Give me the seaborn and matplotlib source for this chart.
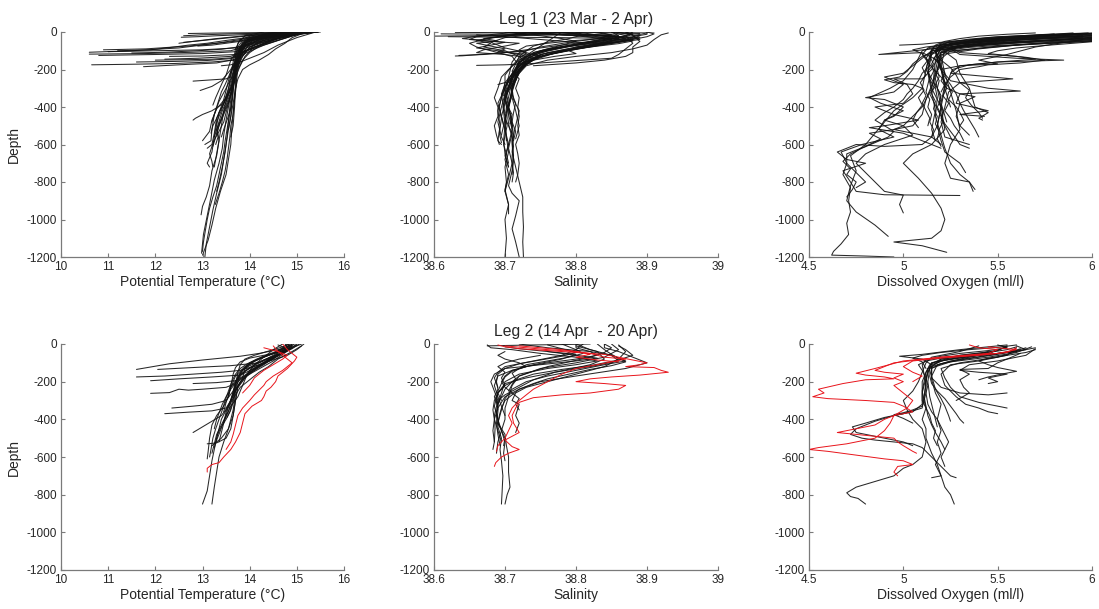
import matplotlib
matplotlib.use("Agg")
import matplotlib.pyplot as plt
import pandas as pd
import seaborn as sns

# ---------------- data: profiles as (value, depth) pairs ----------------
leg1_temp = [
    [(15.45,0),(15.0,-8),(14.6,-20),(14.2,-40),(13.9,-70),(13.8,-110),(13.75,-160),(13.7,-220),(13.65,-300),(13.62,-380),(13.6,-450),(13.55,-520),(13.5,-600),(13.45,-680),(13.4,-760),(13.3,-860),(13.22,-950),(13.15,-1040),(13.08,-1130),(13.05,-1200)],
    [(15.3,0),(14.8,-10),(14.4,-25),(14.0,-50),(13.85,-90),(13.7,-150),(13.68,-250),(13.6,-330),(13.55,-400),(13.5,-470),(13.45,-550),(13.42,-620),(13.35,-700),(13.25,-790),(13.18,-880),(13.1,-980),(13.02,-1080),(12.98,-1180)],
    [(15.5,0),(15.1,-5),(14.5,-15),(14.1,-35),(13.9,-80),(13.75,-130),(13.7,-200),(13.72,-280),(13.68,-360),(13.65,-430),(13.62,-520),(13.6,-600),(13.55,-680),(13.5,-760),(13.38,-850),(13.28,-940),(13.2,-1030),(13.12,-1110),(13.0,-1190)],
    [(15.2,0),(14.6,-12),(14.2,-30),(13.9,-60),(13.8,-120),(13.7,-200),(13.65,-280),(13.5,-360),(13.35,-430),(13.3,-500),(13.35,-580),(13.3,-660),(13.2,-740),(13.15,-820),(13.08,-880),(13.0,-930),(12.97,-975)],
    [(15.3,0),(14.9,-8),(14.3,-22),(13.95,-45),(13.8,-100),(13.72,-170),(13.6,-260),(13.5,-340),(13.4,-420),(13.3,-480),(13.25,-560),(13.2,-640),(13.1,-700),(13.15,-720)],
    [(15.4,0),(14.7,-15),(14.0,-40),(13.8,-90),(13.7,-160),(13.62,-240),(13.5,-300),(13.35,-370),(13.25,-440),(13.2,-520),(13.18,-580),(13.05,-600)],
    [(15.1,0),(14.5,-10),(14.0,-30),(13.85,-70),(13.75,-140),(13.6,-220),(13.55,-310),(13.45,-380),(13.3,-460),(13.25,-540),(13.2,-600),(13.1,-620)],
    [(15.3,0),(14.4,-20),(13.95,-50),(13.8,-110),(13.7,-190),(13.65,-270),(13.5,-350),(13.3,-410),(13.2,-470),(13.15,-530),(13.0,-580)],
    [(15.0,0),(14.3,-15),(13.9,-45),(13.75,-110),(13.7,-200),(13.6,-300),(13.45,-380),(13.2,-420),(13.0,-440),(12.85,-460),(12.8,-470)],
    [(15.2,0),(14.5,-18),(14.0,-45),(13.8,-100),(13.6,-200),(13.4,-260),(13.2,-290),(12.95,-312)],
    [(14.9,0),(14.2,-20),(13.85,-60),(13.7,-130),(13.65,-220),(13.62,-320),(13.58,-400),(13.55,-480),(13.52,-560),(13.48,-640),(13.42,-720),(13.35,-800),(13.3,-850)],
    [(15.4,0),(15.1,-10),(14.9,-30),(14.75,-60),(14.55,-90),(14.4,-120),(14.2,-150),(14.0,-175),(13.85,-200),(13.75,-250),(13.7,-300),(13.68,-400),(13.65,-500),(13.6,-560)],
    [(15.2,0),(14.8,-20),(14.5,-45),(14.2,-75),(14.0,-110),(13.85,-150),(13.75,-200),(13.7,-300),(13.65,-380),(13.6,-450),(13.55,-520)],
    [(15.35,0),(14.95,-15),(14.6,-35),(14.3,-60),(14.05,-90),(13.9,-130),(13.8,-180),(13.7,-240),(13.6,-320),(13.5,-390),(13.4,-460),(13.3,-520),(13.25,-560)],
    [(14.6,0),(14.1,-15),(13.8,-40),(13.7,-90),(13.65,-160),(13.6,-240),(13.5,-250),(12.8,-262)],
    [(14.3,0),(13.9,-20),(13.75,-60),(13.7,-120),(13.68,-200),(13.6,-280),(13.52,-350),(13.45,-420),(13.4,-500),(13.35,-580),(13.3,-650),(13.25,-720)],
    [(10.6,-108),(11.5,-100),(12.5,-85),(13.3,-60),(13.8,-40),(14.3,-20),(15.0,0)],
    [(10.6,-118),(11.8,-115),(12.8,-108),(13.6,-100),(14.0,-70),(14.8,-20),(15.3,0)],
    [(10.65,-175),(11.5,-172),(12.4,-168),(13.2,-160),(13.7,-150),(13.9,-100),(14.5,-40),(15.2,0)],
    [(15.4,0),(14.6,-30),(14.0,-80),(13.8,-140),(13.3,-165),(12.5,-175),(11.75,-185)],
    [(10.8,-125),(12.0,-120),(13.0,-115),(13.7,-105),(14.2,-60),(15.1,0)],
    [(10.9,-95),(11.8,-90),(12.7,-75),(13.5,-55),(14.5,-25),(15.3,0)],
    [(12.2,-145),(12.9,-140),(13.6,-130),(14.1,-80),(15.2,0)],
    [(12.5,-60),(12.8,-50),(13.3,-35),(13.9,-20),(14.6,-8),(15.4,0)],
    [(12.6,-20),(13.0,-15),(13.6,-10),(14.5,-5),(15.3,0)],
    [(11.0,-105),(12.0,-100),(13.0,-95),(13.7,-85),(14.4,-40),(15.0,0)],
    [(12.7,-8),(13.2,-6),(13.9,-4),(14.8,-2),(15.45,0)],
    [(12.3,-130),(13.0,-128),(13.7,-120),(14.3,-70),(15.1,-5)],
    [(15.45,0),(15.2,-5),(14.9,-12),(14.6,-22),(14.35,-35),(14.1,-55),(13.95,-80),(13.85,-110),(13.78,-140),(13.72,-180),(13.7,-230),(13.66,-290),(13.64,-350),(13.6,-410),(13.52,-470),(13.45,-520),(13.4,-560)],
    [(15.4,0),(15.0,-6),(14.7,-14),(14.4,-28),(14.15,-48),(13.98,-70),(13.88,-100),(13.8,-135),(13.76,-175),(13.7,-215),(13.68,-260),(13.62,-320),(13.55,-380),(13.45,-440),(13.35,-500),(13.28,-560),(13.22,-610)],
    [(15.3,0),(14.95,-10),(14.55,-20),(14.25,-32),(14.05,-50),(13.9,-75),(13.82,-105),(13.78,-145),(13.72,-190),(13.66,-240),(13.6,-300),(13.52,-360),(13.42,-420),(13.36,-470),(13.3,-520),(13.33,-560),(13.28,-600)],
    [(15.2,0),(14.85,-8),(14.5,-18),(14.15,-30),(13.95,-45),(13.85,-65),(13.8,-95),(13.76,-130),(13.68,-170),(13.6,-210),(13.55,-260),(13.5,-310),(13.45,-360),(13.38,-410),(13.3,-460),(13.22,-500),(13.18,-540)],
    [(15.1,0),(14.7,-10),(14.3,-20),(14.0,-35),(13.85,-55),(13.78,-85),(13.75,-125),(13.7,-160),(13.62,-200),(13.55,-240),(13.48,-280),(13.4,-320),(13.35,-360),(13.3,-400),(13.25,-440),(13.2,-480)],
    [(15.45,0),(15.1,-8),(14.8,-18),(14.5,-30),(14.3,-45),(14.1,-70),(13.95,-100),(13.85,-130),(13.78,-170),(13.73,-210),(13.7,-260),(13.69,-320),(13.67,-380),(13.65,-440),(13.6,-500),(13.58,-560),(13.55,-620),(13.52,-680),(13.48,-740),(13.42,-800),(13.35,-860),(13.27,-920)],
    [(14.8,0),(14.4,-10),(14.05,-25),(13.85,-45),(13.75,-80),(13.72,-120),(13.7,-170),(13.68,-230),(13.64,-290),(13.58,-350),(13.5,-400),(13.42,-450),(13.35,-500),(13.3,-545)],
    [(15.35,0),(15.05,-6),(14.75,-16),(14.45,-28),(14.2,-42),(14.0,-60),(13.88,-85),(13.82,-115),(13.8,-150),(13.74,-190),(13.68,-230),(13.65,-280),(13.63,-340),(13.6,-400),(13.56,-460),(13.52,-520),(13.48,-580),(13.45,-640),(13.4,-700),(13.35,-760),(13.3,-820),(13.22,-880),(13.15,-940),(13.1,-1000),(13.06,-1060),(13.02,-1120),(13.0,-1170)],
    [(15.0,0),(14.6,-15),(14.2,-30),(13.95,-50),(13.8,-80),(13.7,-115),(13.6,-150),(13.55,-190),(13.5,-230),(13.42,-270),(13.35,-310),(13.28,-350),(13.22,-390)],
    [(15.25,0),(14.9,-10),(14.6,-22),(14.35,-38),(14.15,-58),(14.0,-82),(13.9,-110),(13.82,-140),(13.75,-180),(13.7,-225),(13.66,-275),(13.6,-330),(13.55,-380),(13.5,-430),(13.45,-480),(13.35,-530),(13.25,-575),(13.2,-610),(13.15,-650),(13.2,-690),(13.22,-720)],
    [(11.2,-100),(11.9,-95),(12.4,-80),(12.7,-70),(13.1,-60),(13.5,-45),(14.0,-28),(14.7,-10),(15.2,0)],
    [(11.5,-112),(12.2,-108),(12.9,-100),(13.4,-92),(13.75,-80),(14.2,-50),(14.9,-15),(15.35,0)],
    [(12.0,-150),(12.6,-148),(13.2,-145),(13.6,-138),(13.8,-120),(14.1,-80),(14.6,-35),(15.1,-5)],
    [(12.6,-55),(12.9,-48),(13.2,-40),(13.6,-30),(14.0,-20),(14.6,-10),(15.0,-3)],
    [(12.55,-28),(12.9,-25),(13.3,-20),(13.8,-15),(14.4,-8),(15.1,0)],
    [(12.9,-75),(13.2,-70),(13.5,-60),(13.8,-50),(14.2,-35),(14.8,-15),(15.3,-2)],
    [(11.6,-160),(12.4,-157),(13.1,-152),(13.6,-142),(13.85,-120),(14.3,-70),(15.0,-10)],
    [(13.4,-180),(13.6,-175),(13.8,-160),(14.0,-140),(14.3,-110),(14.6,-70),(15.0,-30),(15.4,0)],
]

leg1_sal = [
    [(38.75,0),(38.8,-10),(38.86,-25),(38.88,-40),(38.85,-60),(38.8,-90),(38.76,-120),(38.73,-160),(38.72,-200),(38.715,-260),(38.71,-320),(38.705,-400),(38.71,-480),(38.712,-560),(38.71,-640),(38.715,-720),(38.72,-800),(38.725,-880),(38.725,-960),(38.726,-1040),(38.725,-1120),(38.726,-1200)],
    [(38.73,0),(38.78,-15),(38.84,-30),(38.87,-45),(38.82,-75),(38.77,-110),(38.74,-140),(38.72,-180),(38.71,-240),(38.705,-300),(38.7,-380),(38.695,-450),(38.7,-520),(38.705,-600),(38.7,-680),(38.705,-760),(38.7,-840),(38.705,-920),(38.7,-1000),(38.702,-1100),(38.7,-1200)],
    [(38.7,0),(38.76,-10),(38.82,-20),(38.89,-30),(38.86,-50),(38.8,-80),(38.75,-120),(38.73,-170),(38.715,-230),(38.71,-300),(38.712,-360),(38.72,-420),(38.715,-500),(38.71,-580),(38.712,-660),(38.71,-740),(38.705,-820),(38.71,-860),(38.72,-900),(38.715,-980),(38.71,-1050),(38.715,-1120),(38.72,-1200)],
    [(38.72,0),(38.8,-20),(38.85,-40),(38.8,-70),(38.75,-110),(38.72,-160),(38.71,-220),(38.7,-300),(38.705,-380),(38.7,-460),(38.71,-540),(38.705,-620),(38.71,-700),(38.705,-780),(38.7,-850),(38.705,-920),(38.705,-970)],
    [(38.93,-5),(38.92,-15),(38.91,-40),(38.9,-70),(38.88,-90),(38.85,-110),(38.8,-130),(38.76,-150),(38.73,-180),(38.72,-220),(38.71,-280),(38.71,-350),(38.715,-420),(38.72,-500),(38.715,-570)],
    [(38.9,-5),(38.88,-20),(38.89,-40),(38.85,-60),(38.78,-100),(38.74,-150),(38.72,-200),(38.705,-260),(38.7,-330),(38.695,-400),(38.69,-480),(38.695,-560),(38.7,-600)],
    [(38.85,0),(38.86,-20),(38.82,-50),(38.76,-100),(38.73,-140),(38.715,-200),(38.7,-270),(38.695,-350),(38.69,-420),(38.693,-500),(38.69,-580),(38.695,-600)],
    [(38.66,-15),(38.7,-25),(38.75,-40),(38.8,-55),(38.84,-60),(38.8,-90),(38.75,-130),(38.72,-170),(38.71,-230),(38.705,-290),(38.7,-360),(38.708,-440),(38.71,-520),(38.705,-600),(38.7,-660),(38.705,-720)],
    [(38.61,-10),(38.7,-12),(38.78,-15),(38.85,-20),(38.87,-35),(38.82,-60),(38.76,-95),(38.73,-130),(38.72,-170),(38.71,-230),(38.705,-300),(38.7,-370),(38.705,-440),(38.71,-520),(38.71,-600),(38.712,-680),(38.71,-760)],
    [(38.62,-25),(38.7,-28),(38.78,-30),(38.86,-35),(38.84,-55),(38.78,-80),(38.74,-115),(38.72,-150),(38.715,-200),(38.71,-260),(38.706,-330),(38.702,-400),(38.7,-480),(38.702,-560),(38.705,-640),(38.7,-720),(38.702,-800),(38.7,-850)],
    [(38.635,-125),(38.67,-120),(38.7,-110),(38.74,-90),(38.8,-60),(38.86,-30),(38.88,-10),(38.85,0)],
    [(38.66,-178),(38.7,-175),(38.73,-170),(38.77,-160),(38.81,-150),(38.85,-140),(38.86,-120),(38.88,-60),(38.87,-20),(38.85,0)],
    [(38.76,0),(38.72,-15),(38.68,-30),(38.66,-45),(38.68,-60),(38.67,-80),(38.7,-100),(38.72,-130),(38.73,-170),(38.72,-220),(38.71,-300),(38.705,-400),(38.71,-500)],
    [(38.74,0),(38.7,-20),(38.67,-40),(38.65,-60),(38.66,-80),(38.68,-100),(38.71,-130),(38.72,-180),(38.71,-250),(38.7,-330),(38.698,-420),(38.7,-500),(38.702,-580)],
    [(38.8,0),(38.75,-10),(38.7,-30),(38.68,-55),(38.7,-85),(38.73,-110),(38.75,-130),(38.73,-170),(38.715,-220),(38.71,-280),(38.7,-350)],
    [(38.88,0),(38.87,-20),(38.84,-40),(38.8,-65),(38.76,-90),(38.74,-110),(38.73,-150),(38.72,-200),(38.712,-270),(38.708,-340),(38.703,-420),(38.7,-500),(38.698,-580),(38.7,-650),(38.705,-720)],
    [(38.83,0),(38.85,-15),(38.83,-35),(38.79,-55),(38.75,-80),(38.72,-110),(38.71,-160),(38.705,-240),(38.7,-300),(38.69,-380),(38.695,-460),(38.692,-540),(38.695,-590)],
    [(38.78,0),(38.82,-20),(38.86,-40),(38.83,-70),(38.79,-100),(38.75,-130),(38.73,-160),(38.72,-210),(38.715,-260),(38.7,-270),(38.69,-280)],
    [(38.9,0),(38.91,-10),(38.9,-25),(38.88,-40),(38.86,-55),(38.82,-80),(38.78,-105),(38.75,-130),(38.73,-160),(38.72,-200),(38.715,-250),(38.71,-310)],
    [(38.63,-2),(38.68,-3),(38.74,-4),(38.8,-3),(38.86,-2),(38.91,0)],
    [(38.6,-22),(38.66,-20),(38.72,-18),(38.78,-15),(38.84,-12),(38.89,-8)],
    [(38.87,0),(38.88,-12),(38.87,-25),(38.84,-45),(38.8,-65),(38.77,-85),(38.75,-105),(38.73,-130),(38.72,-160),(38.715,-200),(38.71,-250),(38.706,-300),(38.7,-350),(38.697,-400),(38.7,-450),(38.703,-500),(38.7,-550),(38.698,-600),(38.702,-650),(38.705,-700)],
    [(38.82,0),(38.84,-10),(38.86,-22),(38.85,-40),(38.81,-60),(38.78,-80),(38.75,-100),(38.74,-125),(38.73,-150),(38.72,-185),(38.712,-230),(38.708,-280),(38.71,-330),(38.715,-380),(38.712,-430),(38.71,-480),(38.715,-530),(38.712,-580)],
    [(38.76,0),(38.8,-8),(38.84,-18),(38.88,-30),(38.87,-45),(38.83,-65),(38.79,-90),(38.76,-110),(38.74,-135),(38.725,-165),(38.715,-200),(38.705,-250),(38.7,-300),(38.695,-350),(38.692,-400),(38.695,-450),(38.698,-500),(38.695,-550)],
    [(38.7,0),(38.72,-10),(38.75,-20),(38.78,-35),(38.8,-50),(38.78,-70),(38.76,-90),(38.74,-110),(38.73,-135),(38.72,-160),(38.715,-200),(38.71,-240),(38.705,-290),(38.7,-340),(38.703,-390),(38.71,-440),(38.707,-490)],
    [(38.86,-2),(38.87,-10),(38.89,-20),(38.88,-35),(38.85,-50),(38.82,-70),(38.79,-95),(38.76,-120),(38.74,-145),(38.73,-175),(38.72,-210),(38.714,-260),(38.71,-310),(38.708,-360),(38.705,-410),(38.704,-460),(38.706,-510),(38.71,-560),(38.712,-610),(38.71,-660),(38.71,-700),(38.712,-750),(38.71,-800)],
    [(38.8,0),(38.82,-10),(38.84,-22),(38.86,-35),(38.88,-48),(38.86,-62),(38.82,-80),(38.78,-100),(38.75,-120),(38.74,-140),(38.73,-170),(38.72,-200),(38.71,-240),(38.7,-290),(38.698,-340)],
    [(38.72,0),(38.69,-10),(38.66,-22),(38.64,-35),(38.67,-45),(38.7,-55),(38.68,-70),(38.66,-85),(38.69,-100),(38.72,-120),(38.74,-140),(38.73,-170),(38.72,-200),(38.71,-250),(38.705,-300)],
    [(38.75,0),(38.72,-10),(38.7,-22),(38.67,-35),(38.69,-48),(38.66,-60),(38.68,-75),(38.7,-90),(38.69,-105),(38.72,-115),(38.75,-125),(38.73,-150),(38.72,-190),(38.715,-240),(38.71,-290),(38.71,-340),(38.705,-390)],
    [(38.73,-5),(38.7,-15),(38.66,-25),(38.65,-40),(38.68,-50),(38.72,-60),(38.7,-75),(38.67,-95),(38.66,-110),(38.7,-120),(38.73,-135),(38.72,-165),(38.715,-210)],
    [(38.9,-2),(38.9,-12),(38.88,-25),(38.86,-40),(38.83,-60),(38.8,-80),(38.79,-100),(38.8,-115),(38.77,-130),(38.74,-150),(38.73,-170),(38.72,-200),(38.715,-240),(38.71,-290)],
    [(38.85,-25),(38.84,-35),(38.8,-45),(38.76,-60),(38.73,-75),(38.72,-95),(38.73,-115),(38.72,-140),(38.71,-180),(38.7,-230),(38.7,-280),(38.695,-330),(38.697,-380),(38.7,-430)],
    [(38.74,-180),(38.76,-175),(38.8,-165),(38.84,-150),(38.87,-130),(38.88,-110),(38.88,-80),(38.89,-50),(38.88,-20),(38.87,0)],
    [(38.73,-100),(38.7,-110),(38.67,-118),(38.64,-127),(38.63,-128)],
    [(38.78,0),(38.76,-50),(38.74,-100),(38.72,-150),(38.705,-200),(38.695,-240),(38.69,-300),(38.685,-350),(38.69,-400),(38.69,-450),(38.685,-500),(38.688,-550),(38.692,-600)],
    [(38.8,0),(38.81,-15),(38.79,-35),(38.76,-55),(38.74,-75),(38.73,-100),(38.72,-130),(38.715,-170),(38.71,-210),(38.72,-250),(38.715,-300),(38.72,-350),(38.718,-400),(38.72,-450),(38.718,-500),(38.72,-550),(38.715,-600),(38.718,-650),(38.72,-700),(38.718,-760),(38.715,-800)],
]

leg1_oxy = [
    [(6.0,-15),(5.7,-30),(5.4,-50),(5.2,-80),(5.17,-150),(5.16,-250),(5.18,-350),(5.17,-450),(5.2,-550),(5.22,-620),(5.25,-700),(5.3,-760),(5.35,-800),(5.38,-840)],
    [(6.0,-25),(5.6,-45),(5.3,-70),(5.15,-100),(5.13,-200),(5.15,-300),(5.2,-400),(5.18,-500),(5.2,-580),(5.22,-640),(5.3,-700),(5.33,-750)],
    [(5.95,-10),(5.5,-40),(5.2,-70),(5.1,-100),(5.05,-200),(5.0,-260),(4.93,-300),(4.82,-350),(4.88,-380),(5.0,-420),(4.9,-470),(4.87,-520),(4.95,-560),(4.78,-600),(4.67,-640),(4.7,-700),(4.68,-760),(4.72,-830),(4.71,-900),(4.72,-960),(4.7,-1020),(4.71,-1080),(4.67,-1130),(4.63,-1170),(4.62,-1190),(4.8,-1195),(4.95,-1200)],
    [(6.0,-30),(5.65,-55),(5.3,-80),(5.2,-110),(5.18,-200),(5.15,-300),(5.1,-400),(5.05,-450),(5.0,-500),(5.05,-550),(4.9,-600),(4.8,-650),(4.75,-700),(4.8,-750),(4.85,-800),(4.9,-850),(5.0,-870),(4.98,-920),(5.0,-965)],
    [(6.0,-40),(5.7,-60),(5.4,-90),(5.2,-120),(5.17,-250),(5.2,-400),(5.22,-520),(5.15,-600),(5.05,-650),(5.0,-700),(5.08,-780),(5.15,-860),(5.2,-940),(5.22,-1000),(5.2,-1060),(5.15,-1100),(4.95,-1120),(5.1,-1140),(5.23,-1175)],
    [(5.9,-5),(5.6,-25),(5.3,-60),(5.15,-90),(5.12,-200),(5.1,-300),(5.05,-350),(4.95,-420),(4.9,-480),(4.85,-540),(4.8,-600),(4.72,-660),(4.75,-740),(4.72,-820),(4.7,-900),(4.75,-960),(4.85,-1030),(4.92,-1090)],
    [(6.0,-20),(5.6,-40),(5.35,-60),(5.25,-90),(5.3,-120),(5.6,-140),(5.85,-150),(5.5,-160),(5.3,-180),(5.25,-220),(5.58,-250),(5.3,-270),(5.24,-320),(5.22,-400),(5.2,-480),(5.22,-560),(5.35,-600)],
    [(6.0,-35),(5.5,-55),(5.2,-85),(4.87,-120),(5.1,-110),(5.18,-150),(5.2,-200),(5.25,-260),(5.45,-300),(5.62,-315),(5.3,-330),(5.28,-380),(5.45,-420),(5.3,-440),(5.43,-450)],
    [(5.8,-10),(5.45,-30),(5.2,-60),(5.17,-100),(5.2,-200),(5.23,-300),(5.3,-330),(5.38,-345),(5.3,-380),(5.28,-450),(5.3,-500),(5.35,-550)],
    [(6.0,-45),(5.6,-70),(5.25,-100),(5.18,-160),(5.16,-260),(5.12,-360),(5.1,-440),(5.05,-500),(4.95,-520),(5.05,-540),(5.15,-560),(5.2,-600)],
    [(6.0,-50),(5.5,-75),(5.2,-110),(5.15,-200),(5.1,-250),(4.95,-250),(5.02,-280),(5.05,-330),(5.0,-380),(4.85,-400),(4.95,-440),(5.08,-470),(4.9,-500),(4.82,-510),(5.0,-540),(5.1,-580),(5.2,-620)],
    [(5.95,-20),(5.5,-50),(5.25,-80),(5.2,-130),(5.22,-220),(5.25,-320),(5.28,-420),(5.3,-520),(5.25,-600),(5.22,-700),(5.25,-780),(5.35,-800),(5.37,-850)],
    [(6.0,-10),(5.7,-25),(5.45,-50),(5.25,-80),(5.3,-110),(5.6,-130),(5.7,-145),(5.5,-160),(5.35,-175),(5.26,-200),(5.22,-300),(5.2,-400),(5.18,-500),(5.15,-560),(5.1,-600),(4.9,-610),(4.75,-600),(4.65,-640),(4.7,-680),(4.8,-700),(4.68,-740),(4.72,-800),(4.75,-850),(4.9,-868),(5.3,-872)],
    [(6.0,-5),(5.7,-20),(5.4,-40),(5.2,-70),(5.15,-120),(5.13,-220),(5.15,-320),(5.17,-420),(5.15,-520),(5.17,-580)],
    [(6.0,-30),(5.5,-60),(5.15,-100),(5.0,-220),(4.9,-240),(5.0,-280),(4.95,-320),(4.8,-350),(4.9,-360),(5.0,-400),(4.95,-450),(4.9,-470),(5.0,-500),(4.95,-520),(4.82,-540),(4.88,-570),(4.8,-610),(4.7,-650),(4.7,-700),(4.75,-750),(4.8,-800),(4.75,-830)],
    [(5.9,-15),(5.5,-35),(5.25,-60),(5.2,-90),(5.28,-150),(5.3,-220),(5.35,-300),(5.38,-400),(5.45,-430),(5.4,-460),(5.42,-470)],
    [(6.0,-8),(5.8,-15),(5.5,-30),(5.25,-50),(5.1,-65),(4.98,-70)],
    [(5.95,-40),(5.7,-80),(5.55,-120),(5.4,-150),(5.5,-170),(5.3,-180),(5.2,-200),(5.22,-300),(5.25,-400)],
    [(6.0,-28),(5.8,-40),(5.55,-55),(5.35,-70),(5.22,-95),(5.2,-180),(5.22,-280),(5.2,-380),(5.23,-480)],
    [(6.0,-12),(5.8,-20),(5.6,-32),(5.42,-45),(5.3,-60),(5.22,-75),(5.18,-95),(5.17,-130),(5.15,-170),(5.16,-210),(5.14,-250),(5.16,-290),(5.15,-330),(5.17,-370),(5.16,-410),(5.18,-450),(5.17,-490),(5.19,-530),(5.18,-570),(5.2,-610)],
    [(6.0,-22),(5.78,-30),(5.55,-42),(5.38,-55),(5.26,-70),(5.2,-90),(5.18,-120),(5.2,-160),(5.18,-200),(5.19,-240),(5.17,-280),(5.19,-320),(5.2,-360),(5.18,-400),(5.2,-440),(5.21,-480),(5.19,-520)],
    [(6.0,-35),(5.82,-42),(5.62,-52),(5.45,-62),(5.3,-75),(5.2,-95),(5.15,-120),(5.13,-160),(5.12,-200),(5.14,-240),(5.13,-280),(5.12,-320),(5.14,-360),(5.13,-400),(5.15,-440),(5.14,-480),(5.16,-520),(5.15,-560)],
    [(5.98,-5),(5.75,-14),(5.5,-25),(5.35,-38),(5.25,-52),(5.2,-70),(5.17,-100),(5.18,-140),(5.2,-180),(5.22,-220),(5.2,-260),(5.23,-300),(5.21,-340),(5.24,-380),(5.22,-420),(5.25,-460),(5.27,-500),(5.3,-540),(5.32,-580)],
    [(6.0,-18),(5.85,-24),(5.65,-34),(5.45,-46),(5.3,-58),(5.22,-72),(5.16,-90),(5.14,-130),(5.16,-170),(5.13,-210),(5.15,-250),(5.17,-290),(5.14,-330),(5.16,-370),(5.18,-410),(5.2,-450),(5.22,-490),(5.25,-530),(5.28,-570),(5.3,-600),(5.35,-620)],
    [(6.0,-42),(5.8,-50),(5.58,-60),(5.4,-72),(5.28,-85),(5.2,-105),(5.16,-140),(5.2,-180),(5.17,-220),(5.19,-260),(5.18,-300),(5.2,-340),(5.19,-380),(5.21,-420),(5.2,-460),(5.22,-500),(5.24,-540),(5.26,-580)],
    [(5.95,-28),(5.7,-38),(5.45,-52),(5.25,-65),(5.12,-80),(5.05,-95),(5.1,-115),(5.13,-150),(5.1,-190),(5.12,-230),(5.09,-270),(5.11,-310),(5.08,-350),(5.1,-390),(5.07,-430),(5.05,-470),(5.08,-510)],
    [(6.0,-8),(5.85,-12),(5.7,-18),(5.55,-26),(5.45,-35),(5.35,-48),(5.25,-62),(5.2,-80),(5.17,-110),(5.2,-150),(5.25,-190),(5.28,-230),(5.3,-270),(5.35,-310),(5.33,-350),(5.36,-390),(5.4,-430),(5.42,-460)],
    [(6.0,-48),(5.85,-55),(5.7,-62),(5.5,-72),(5.35,-82),(5.25,-95),(5.2,-110),(5.18,-150),(5.2,-200),(5.22,-240),(5.25,-280),(5.28,-330),(5.3,-380),(5.32,-420),(5.35,-470),(5.38,-520),(5.4,-560)],
    [(5.7,-5),(5.55,-12),(5.4,-22),(5.3,-35),(5.22,-50),(5.17,-70),(5.15,-100),(5.12,-140),(5.14,-180),(5.1,-220),(5.08,-260),(5.05,-300),(5.02,-330),(5.0,-360),(4.95,-400),(4.9,-430),(4.85,-470),(4.9,-500),(4.95,-530),(4.92,-560),(4.85,-590),(4.78,-620),(4.72,-650),(4.68,-690),(4.72,-730),(4.7,-760),(4.75,-800),(4.73,-840),(4.7,-880)],
    [(6.0,-38),(5.75,-48),(5.5,-62),(5.3,-78),(5.18,-100),(5.1,-130),(5.05,-170),(5.02,-210),(4.98,-240),(4.9,-255),(4.95,-270),(5.05,-280),(5.1,-300),(5.12,-340),(5.1,-380),(5.12,-420),(5.14,-460),(5.13,-500)],
    [(5.9,-15),(5.65,-25),(5.4,-40),(5.22,-60),(5.13,-85),(5.1,-120),(5.13,-160),(5.16,-200),(5.2,-240),(5.23,-280),(5.26,-320),(5.24,-360),(5.28,-400),(5.3,-430),(5.32,-470),(5.3,-500)],
    [(6.0,-52),(5.9,-60),(5.75,-72),(5.6,-85),(5.5,-100),(5.45,-115),(5.55,-125),(5.65,-135),(5.75,-150),(5.62,-165),(5.45,-175),(5.4,-185),(5.3,-200),(5.25,-240),(5.22,-280),(5.2,-320)],
]

leg2_temp_black = [
    [(15.15,0),(15.0,-30),(14.8,-60),(14.3,-100),(14.0,-130),(13.8,-160),(13.7,-200),(13.65,-250),(13.6,-300),(13.5,-350),(13.4,-400),(13.35,-450),(13.3,-500),(13.25,-560),(13.2,-620),(13.15,-700),(13.1,-780),(13.0,-850)],
    [(14.8,0),(14.7,-20),(14.5,-50),(14.1,-90),(13.9,-130),(13.85,-180),(13.75,-230),(13.7,-300),(13.65,-380),(13.55,-450),(13.45,-520),(13.35,-600),(13.3,-680),(13.25,-760),(13.2,-850)],
    [(14.9,0),(14.6,-40),(14.2,-80),(13.9,-120),(13.7,-170),(13.6,-230),(13.55,-280),(13.45,-330),(13.3,-380),(13.2,-430),(13.15,-500),(13.12,-570),(13.1,-610)],
    [(15.0,-5),(14.8,-30),(14.4,-60),(14.0,-100),(13.8,-150),(13.75,-200),(13.7,-250),(13.68,-300),(13.65,-350),(13.6,-400),(13.55,-450),(13.4,-500),(13.3,-520),(13.2,-540)],
    [(14.7,0),(14.5,-30),(14.3,-70),(14.1,-110),(13.95,-160),(13.85,-220),(13.75,-280),(13.6,-330),(13.5,-380),(13.4,-430),(13.3,-480),(13.25,-530),(13.2,-580)],
    [(15.1,-10),(14.9,-40),(14.6,-80),(14.4,-120),(14.2,-150),(14.0,-190),(13.8,-230),(13.7,-270),(13.6,-310),(13.5,-360),(13.45,-420),(13.4,-470),(13.35,-520)],
    [(14.85,-5),(14.7,-25),(14.2,-50),(13.8,-65),(13.0,-85),(12.3,-105),(11.6,-135)],
    [(11.6,-175),(12.2,-170),(12.8,-160),(13.4,-150),(13.8,-140),(14.2,-110),(14.6,-60),(14.9,-10)],
    [(11.9,-195),(12.5,-185),(13.2,-175),(13.8,-165),(14.1,-130),(14.5,-80),(14.8,-20)],
    [(12.05,-135),(12.8,-125),(13.6,-115),(14.2,-100),(14.6,-60),(14.9,-20)],
    [(11.9,-262),(12.3,-258),(12.5,-240),(12.7,-245),(13.0,-240),(13.5,-230),(13.7,-210),(13.9,-170),(14.3,-110),(14.7,-40),(14.9,0)],
    [(12.2,-370),(12.7,-362),(13.2,-355),(13.5,-340),(13.6,-300),(13.7,-250),(13.9,-180),(14.3,-100),(14.8,-30)],
    [(12.35,-340),(12.8,-330),(13.2,-320),(13.5,-300),(13.65,-250),(13.8,-180),(14.2,-120),(14.7,-50),(15.0,0)],
    [(12.8,-470),(13.0,-440),(13.2,-410),(13.4,-380),(13.55,-330),(13.65,-270),(13.8,-200),(14.1,-130),(14.6,-50)],
    [(13.1,-530),(13.3,-525),(13.5,-500),(13.6,-450),(13.65,-380),(13.7,-300),(13.75,-220),(14.0,-140),(14.6,-60),(14.9,-10)],
    [(12.8,-210),(13.3,-205),(13.7,-195),(14.0,-160),(14.5,-90),(14.9,-20)],
    [(15.1,0),(14.95,-15),(14.8,-35),(14.6,-55),(14.4,-75),(14.2,-95),(14.0,-115),(13.85,-140),(13.75,-170),(13.7,-210),(13.65,-260),(13.6,-310),(13.55,-360),(13.45,-410),(13.38,-460),(13.3,-510),(13.25,-550)],
    [(14.9,-5),(14.85,-20),(14.75,-40),(14.55,-60),(14.3,-85),(14.1,-110),(13.95,-135),(13.82,-165),(13.72,-200),(13.6,-240),(13.5,-280),(13.42,-320),(13.36,-360),(13.3,-400),(13.25,-450)],
    [(14.8,0),(14.85,-10),(14.7,-30),(14.5,-50),(14.25,-70),(14.05,-95),(13.9,-125),(13.8,-160),(13.72,-200),(13.68,-240),(13.66,-280),(13.62,-320),(13.58,-360),(13.5,-400),(13.4,-440),(13.32,-480),(13.28,-520)],
    [(15.05,0),(14.9,-25),(14.7,-50),(14.5,-75),(14.3,-100),(14.15,-125),(14.0,-150),(13.9,-180),(13.8,-210),(13.7,-240),(13.62,-280),(13.55,-330),(13.5,-380),(13.45,-420)],
    [(14.75,0),(14.8,-15),(14.6,-35),(14.4,-55),(14.15,-80),(13.95,-105),(13.8,-130),(13.7,-160),(13.62,-200),(13.55,-250),(13.48,-300),(13.42,-350),(13.35,-400),(13.28,-450),(13.22,-500),(13.18,-560),(13.15,-600)],
    [(14.95,0),(14.8,-20),(14.65,-40),(14.5,-60),(14.35,-80),(14.2,-100),(14.05,-120),(13.92,-140),(13.8,-165),(13.7,-195),(13.6,-230),(13.55,-270),(13.5,-310),(13.45,-360)],
    [(14.6,-5),(14.7,-15),(14.75,-30),(14.6,-45),(14.3,-60),(14.0,-75),(13.8,-95),(13.7,-125),(13.65,-160),(13.62,-200),(13.58,-240),(13.55,-280)],
    [(14.85,0),(14.7,-15),(14.5,-30),(14.3,-45),(14.1,-60),(13.9,-80),(13.8,-110),(13.75,-150),(13.72,-190),(13.7,-230),(13.68,-270),(13.65,-310),(13.6,-350),(13.52,-390)],
]
leg2_temp_red = [
    [(14.7,0),(14.8,-30),(15.0,-70),(14.95,-90),(14.8,-130),(14.6,-170),(14.55,-200),(14.45,-230),(14.35,-250),(14.3,-280),(14.25,-300),(14.05,-330),(13.9,-370),(13.85,-420),(13.8,-470),(13.7,-520),(13.6,-560),(13.45,-600),(13.35,-630),(13.2,-640),(13.1,-660),(13.1,-680)],
    [(14.5,-10),(14.6,-40),(14.8,-80),(14.9,-100),(14.7,-140),(14.5,-170),(14.35,-200),(14.3,-220),(14.1,-270),(14.0,-300),(13.85,-340),(13.75,-380),(13.7,-430),(13.65,-480),(13.6,-520),(13.5,-560)],
    [(14.3,-20),(14.6,-40),(14.8,-60),(14.7,-80),(14.5,-110),(14.3,-140),(14.1,-180),(14.0,-220),(13.85,-260)],
]

leg2_sal_black = [
    [(38.675,-5),(38.68,-20),(38.71,-30),(38.75,-50),(38.8,-70),(38.83,-90),(38.8,-110),(38.76,-130),(38.72,-160),(38.7,-200),(38.695,-260),(38.69,-320),(38.688,-380),(38.69,-440),(38.695,-500),(38.693,-560),(38.695,-620),(38.697,-700),(38.696,-780),(38.695,-850)],
    [(38.72,0),(38.76,-20),(38.82,-40),(38.85,-60),(38.87,-90),(38.84,-110),(38.8,-140),(38.76,-170),(38.73,-200),(38.71,-240),(38.7,-290),(38.695,-350),(38.69,-420),(38.7,-480),(38.702,-540),(38.705,-600),(38.705,-680),(38.707,-760),(38.703,-800),(38.7,-850)],
    [(38.8,0),(38.82,-30),(38.85,-60),(38.86,-90),(38.82,-120),(38.77,-150),(38.73,-180),(38.7,-210),(38.69,-260),(38.685,-330),(38.69,-400),(38.695,-460),(38.69,-520),(38.688,-580)],
    [(38.84,0),(38.84,-20),(38.86,-40),(38.88,-70),(38.9,-100),(38.87,-130),(38.8,-170),(38.75,-200),(38.72,-240),(38.7,-280),(38.69,-340),(38.685,-400),(38.69,-460),(38.695,-520)],
    [(38.85,0),(38.855,-15),(38.86,-30),(38.84,-70),(38.8,-100),(38.75,-130),(38.72,-170),(38.71,-220),(38.705,-280),(38.7,-340),(38.7,-400),(38.695,-460),(38.7,-520),(38.698,-580),(38.7,-620)],
    [(38.7,-15),(38.72,-25),(38.76,-40),(38.8,-55),(38.78,-80),(38.74,-110),(38.71,-140),(38.69,-170),(38.685,-220),(38.69,-280),(38.695,-330),(38.7,-380)],
    [(38.76,-40),(38.8,-60),(38.83,-75),(38.8,-90),(38.75,-110),(38.7,-130),(38.685,-160),(38.68,-200),(38.685,-250),(38.69,-300),(38.69,-360),(38.688,-420),(38.69,-480),(38.693,-540)],
    [(38.8,-10),(38.83,-40),(38.84,-80),(38.82,-110),(38.77,-150),(38.74,-190),(38.72,-230),(38.7,-270),(38.69,-300),(38.685,-380),(38.686,-450),(38.685,-520)],
    [(38.75,-60),(38.72,-80),(38.7,-100),(38.69,-120),(38.7,-150),(38.695,-180),(38.7,-220),(38.69,-260),(38.695,-300)],
    [(38.86,-5),(38.87,-40),(38.86,-80),(38.84,-120),(38.8,-160),(38.76,-200),(38.73,-230),(38.715,-260),(38.71,-300),(38.72,-320),(38.715,-380),(38.72,-420),(38.715,-470)],
    [(38.81,0),(38.8,-30),(38.78,-60),(38.74,-90),(38.7,-120),(38.69,-150),(38.685,-180),(38.69,-230)],
    [(38.675,-10),(38.7,-8),(38.74,-5),(38.78,-3),(38.82,0)],
    [(38.8,0),(38.8,-20),(38.82,-40),(38.83,-60),(38.8,-80),(38.76,-100),(38.73,-120),(38.71,-145),(38.7,-175),(38.695,-210),(38.69,-250),(38.688,-300),(38.69,-350)],
    [(38.84,0),(38.85,-20),(38.84,-45),(38.82,-70),(38.79,-95),(38.76,-120),(38.74,-145),(38.72,-170),(38.71,-200),(38.7,-240),(38.695,-280),(38.69,-320),(38.688,-360),(38.69,-400),(38.692,-440)],
    [(38.76,-5),(38.78,-25),(38.8,-45),(38.78,-65),(38.75,-85),(38.72,-105),(38.7,-130),(38.69,-160),(38.688,-200),(38.69,-240),(38.685,-280),(38.69,-330)],
    [(38.83,0),(38.84,-30),(38.85,-55),(38.86,-75),(38.87,-95),(38.85,-115),(38.82,-135),(38.79,-160),(38.76,-185),(38.74,-210),(38.72,-240),(38.71,-270),(38.7,-300),(38.695,-340),(38.692,-380),(38.69,-420),(38.695,-460),(38.7,-500),(38.698,-540)],
    [(38.7,-40),(38.69,-60),(38.7,-80),(38.72,-100),(38.73,-120),(38.71,-140),(38.7,-170),(38.695,-200),(38.7,-230),(38.71,-260),(38.72,-290),(38.715,-320),(38.72,-350)],
    [(38.78,0),(38.79,-15),(38.8,-30),(38.81,-50),(38.79,-70),(38.76,-90),(38.73,-110),(38.72,-130),(38.71,-155),(38.715,-185),(38.71,-215),(38.705,-250)],
    [(38.86,-10),(38.87,-30),(38.88,-60),(38.86,-85),(38.84,-100),(38.82,-115),(38.78,-135),(38.74,-160),(38.72,-185),(38.7,-220),(38.69,-260),(38.685,-300),(38.683,-350),(38.685,-400),(38.683,-460),(38.685,-520),(38.683,-560)],
]
leg2_sal_red = [
    [(38.69,-5),(38.7,-15),(38.72,-25),(38.76,-35),(38.8,-45),(38.84,-55),(38.86,-70),(38.88,-85),(38.9,-100),(38.89,-110),(38.87,-120),(38.91,-125),(38.92,-140),(38.93,-150),(38.89,-165),(38.85,-175),(38.82,-185),(38.8,-200),(38.84,-210),(38.87,-220),(38.86,-240),(38.82,-260),(38.78,-270),(38.74,-285),(38.72,-310),(38.715,-340),(38.71,-380),(38.712,-420),(38.72,-470),(38.71,-490),(38.7,-510),(38.71,-545),(38.72,-560),(38.705,-580),(38.695,-600),(38.687,-630),(38.685,-650)],
    [(38.72,-10),(38.75,-20),(38.78,-30),(38.82,-50),(38.84,-70),(38.87,-80),(38.85,-95),(38.83,-110),(38.8,-130),(38.78,-160),(38.76,-200),(38.74,-240),(38.73,-270),(38.72,-300),(38.71,-340),(38.705,-380),(38.71,-420),(38.705,-460),(38.7,-500),(38.69,-540),(38.688,-570)],
    [(38.7,-10),(38.73,-20),(38.76,-30),(38.8,-40),(38.82,-55),(38.8,-70),(38.83,-85),(38.86,-95)],
]

leg2_oxy_black = [
    [(5.6,-10),(5.65,-30),(5.5,-50),(5.3,-70),(5.15,-100),(5.12,-150),(5.1,-200),(5.1,-250),(5.11,-300),(5.12,-340),(5.1,-400),(5.12,-450),(5.12,-500),(5.15,-580),(5.18,-640),(5.2,-700),(5.22,-760),(5.25,-800),(5.27,-850)],
    [(5.7,-20),(5.6,-40),(5.4,-60),(5.2,-90),(5.13,-130),(5.12,-200),(5.11,-280),(5.1,-340),(5.0,-370),(4.9,-390),(4.8,-420),(4.73,-440),(4.75,-470),(4.8,-480),(4.9,-500),(5.0,-520),(5.05,-540)],
    [(5.55,-10),(5.5,-35),(5.3,-60),(5.15,-100),(5.12,-180),(5.1,-260),(5.1,-320),(5.05,-360),(4.95,-380),(4.85,-410),(4.75,-450),(4.72,-480),(4.78,-500),(4.85,-510),(4.95,-520),(5.05,-530),(5.1,-550),(5.15,-600),(5.2,-650),(5.25,-700),(5.28,-710)],
    [(5.5,-30),(5.45,-50),(5.2,-80),(5.15,-120),(5.15,-180),(5.2,-230),(5.3,-260),(5.45,-270),(5.55,-260)],
    [(5.6,-40),(5.5,-70),(5.3,-100),(5.2,-130),(5.22,-180),(5.25,-230),(5.3,-280),(5.4,-310),(5.5,-330),(5.55,-340)],
    [(5.6,-20),(5.55,-60),(5.4,-90),(5.25,-110),(5.2,-160),(5.22,-220),(5.28,-280),(5.33,-320),(5.4,-340),(5.45,-360),(5.5,-370)],
    [(5.55,-15),(5.45,-50),(5.3,-80),(5.18,-110),(5.15,-170),(5.17,-240),(5.2,-290),(5.22,-330),(5.24,-380),(5.25,-410)],
    [(5.7,-25),(5.65,-60),(5.5,-90),(5.35,-110),(5.3,-140),(5.4,-150),(5.55,-160),(5.45,-180),(5.5,-200),(5.45,-210)],
    [(5.62,-50),(5.55,-80),(5.5,-100),(5.45,-130),(5.3,-135),(5.35,-160),(5.3,-190),(5.32,-230),(5.35,-260),(5.28,-300)],
    [(5.4,-10),(5.3,-40),(5.15,-70),(5.12,-100),(5.1,-150),(5.08,-200),(5.05,-250),(5.0,-300),(5.02,-350),(5.05,-400),(5.1,-450),(5.12,-520),(5.1,-600),(5.05,-640),(5.0,-660),(4.95,-700),(4.85,-730),(4.75,-760),(4.7,-790),(4.72,-810),(4.76,-820),(4.8,-850)],
    [(5.6,-35),(5.45,-60),(5.25,-90),(5.15,-120),(5.15,-190),(5.17,-260),(5.2,-320),(5.18,-400),(5.2,-460),(5.18,-520),(5.2,-580),(5.17,-640),(5.2,-700),(5.15,-710)],
    [(5.55,-5),(5.3,-30),(5.1,-55),(4.98,-65),(5.1,-80),(5.15,-110)],
    [(5.68,-15),(5.6,-45),(5.45,-70),(5.25,-95),(5.14,-130),(5.13,-200),(5.14,-280),(5.16,-360),(5.18,-440)],
    [(5.6,-15),(5.55,-30),(5.45,-45),(5.3,-60),(5.2,-80),(5.14,-110),(5.12,-150),(5.11,-200),(5.1,-250),(5.1,-300),(5.12,-340),(5.14,-380),(5.15,-420),(5.17,-460),(5.16,-500),(5.18,-540)],
    [(5.65,-20),(5.6,-35),(5.5,-50),(5.35,-65),(5.22,-85),(5.15,-110),(5.13,-150),(5.12,-200),(5.12,-260),(5.13,-320),(5.15,-360),(5.18,-400),(5.2,-440),(5.22,-480),(5.24,-520),(5.22,-560)],
    [(5.5,-5),(5.55,-20),(5.45,-35),(5.3,-50),(5.2,-65),(5.12,-85),(5.1,-110),(5.11,-160),(5.12,-220),(5.11,-280),(5.12,-330),(5.13,-380),(5.15,-430),(5.17,-470),(5.2,-520),(5.22,-560),(5.2,-600),(5.22,-650)],
    [(5.62,-25),(5.58,-40),(5.5,-55),(5.4,-70),(5.3,-85),(5.2,-105),(5.15,-130),(5.14,-170),(5.15,-210),(5.18,-250),(5.22,-290),(5.25,-330),(5.28,-370),(5.3,-400),(5.32,-420)],
    [(5.45,-40),(5.4,-55),(5.3,-65),(5.2,-75),(5.12,-90),(5.08,-110),(5.1,-140),(5.12,-180),(5.13,-220),(5.12,-260),(5.11,-300),(5.1,-330),(5.05,-350),(5.0,-365),(4.95,-375),(5.0,-395),(5.05,-420)],
    [(5.7,-30),(5.65,-45),(5.55,-60),(5.45,-75),(5.4,-90),(5.45,-110),(5.5,-125),(5.55,-135),(5.6,-145),(5.52,-160),(5.45,-175),(5.4,-190)],
    [(5.6,-5),(5.5,-18),(5.35,-30),(5.2,-45),(5.1,-60),(5.05,-75),(5.1,-95),(5.12,-130)],
]
leg2_oxy_red = [
    [(5.35,-5),(5.4,-20),(5.5,-30),(5.45,-50),(5.2,-70),(5.0,-90),(4.85,-130),(4.75,-155),(4.8,-165),(4.9,-175),(4.95,-185),(4.8,-190),(4.68,-210),(4.55,-240),(4.58,-260),(4.52,-280),(4.6,-290),(4.8,-300),(4.95,-310),(5.0,-330),(5.05,-360),(4.95,-380),(4.9,-400),(4.85,-430),(4.75,-450),(4.65,-470),(4.75,-480),(4.85,-490),(4.95,-500),(4.97,-520),(5.0,-540),(5.05,-570),(5.07,-580)],
    [(5.45,-15),(5.6,-30),(5.5,-50),(5.2,-70),(4.95,-100),(4.85,-140),(4.9,-150),(5.0,-160),(4.95,-180),(5.0,-200),(4.95,-220),(5.0,-260),(5.05,-300),(5.02,-340),(4.95,-380),(4.93,-420),(4.9,-460),(4.85,-500),(4.7,-530),(4.55,-550),(4.5,-560),(4.6,-570),(4.75,-590),(4.9,-610),(5.0,-620),(5.05,-640),(4.97,-650),(4.95,-680),(4.97,-700)],
    [(5.6,-20),(5.55,-45),(5.4,-60),(5.2,-75),(5.05,-90),(5.0,-120),(5.05,-150),(5.1,-170),(5.05,-200)],
]

depth_ticks = [0, -200, -400, -600, -800, -1000, -1200]
temp_ticks = [10, 11, 12, 13, 14, 15, 16]
sal_ticks = [38.6, 38.7, 38.8, 38.9, 39.0]
sal_labels = ["38.6", "38.7", "38.8", "38.9", "39"]
oxy_ticks = [4.5, 5.0, 5.5, 6.0]
oxy_labels = ["4.5", "5", "5.5", "6"]
xlabels = ["Potential Temperature (\u00b0C)", "Salinity", "Dissolved Oxygen (ml/l)"]
titles = ["Leg 1 (23 Mar - 2 Apr)", "Leg 2 (14 Apr  - 20 Apr)"]

# ---------------- style ----------------
sns.set_theme(style="white")
plt.rcParams["font.family"] = ["Liberation Sans", "DejaVu Sans"]
plt.rcParams["axes.unicode_minus"] = False


def to_df(profiles):
    rows = []
    for i, prof in enumerate(profiles):
        for k, (v, d) in enumerate(prof):
            rows.append({"profile": i, "order": k, "value": v, "depth": d})
    return pd.DataFrame(rows)


fig = plt.figure(figsize=(10.99, 6.09), dpi=100)
lefts = [61 / 1099, 434 / 1099, 809 / 1099]
widths = [283 / 1099, 284 / 1099, 283 / 1099]
bottoms = [1 - 257 / 609, 1 - 570 / 609]
heights = [225 / 609, 226 / 609]

panels = [
    [(leg1_temp, None), (leg1_sal, None), (leg1_oxy, None)],
    [(leg2_temp_black, leg2_temp_red), (leg2_sal_black, leg2_sal_red), (leg2_oxy_black, leg2_oxy_red)],
]
xlims = [(10, 16), (38.6, 39.0), (4.5, 6.0)]
xticks = [(temp_ticks, [str(t) for t in temp_ticks]), (sal_ticks, sal_labels), (oxy_ticks, oxy_labels)]

spine_col = "#7a7a7a"
text_col = "#262626"

for r in range(2):
    for c in range(3):
        ax = fig.add_axes([lefts[c], bottoms[r], widths[c], heights[r]])
        black, red = panels[r][c]
        sns.lineplot(data=to_df(black), x="value", y="depth", units="profile",
                     estimator=None, sort=False, color="#111111", lw=0.75,
                     alpha=0.9, legend=False, ax=ax)
        if red is not None:
            sns.lineplot(data=to_df(red), x="value", y="depth", units="profile",
                         estimator=None, sort=False, color="#e8141b", lw=0.7,
                         legend=False, ax=ax)
        ax.set_xlim(*xlims[c])
        ax.set_ylim(-1200, 0)
        ax.set_yticks(depth_ticks)
        ax.set_yticklabels([str(t) for t in depth_ticks])
        ax.set_xticks(xticks[c][0])
        ax.set_xticklabels(xticks[c][1])
        for s in ["top", "right"]:
            ax.spines[s].set_visible(False)
        for s in ["left", "bottom"]:
            ax.spines[s].set_color(spine_col)
            ax.spines[s].set_linewidth(0.9)
        ax.tick_params(direction="in", length=3, width=0.8, color=spine_col,
                       labelsize=8.5, labelcolor=text_col, pad=3,
                       bottom=True, left=True)
        ax.set_xlabel(xlabels[c], fontsize=10, color=text_col, labelpad=1)
        if c == 0:
            ax.set_ylabel("Depth", fontsize=10, color=text_col, labelpad=4)
        else:
            ax.set_ylabel("")
        if c == 1:
            ax.set_title(titles[r], fontsize=11.3, color=text_col, pad=6)
        ax.patch.set_alpha(0)

fig.savefig("out.png", dpi=100, facecolor="white")
